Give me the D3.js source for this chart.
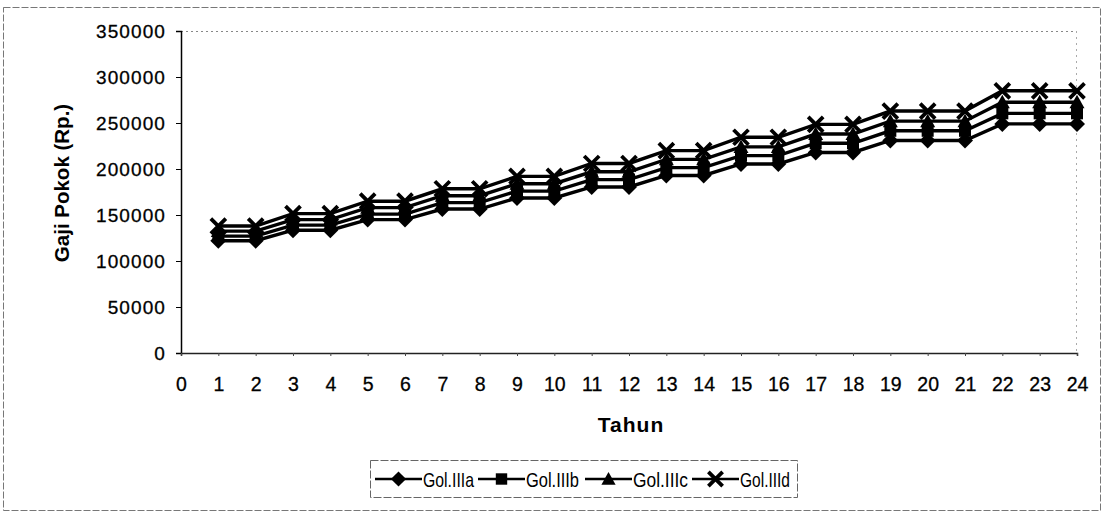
<!DOCTYPE html>
<html>
<head>
<meta charset="utf-8">
<script src="https://cdn.jsdelivr.net/npm/d3@7"></script>
<style>
  html, body { margin: 0; padding: 0; background: #fff; }
  svg { display: block; font-family: "Liberation Sans", Arial, sans-serif; }
</style>
</head>
<body>
<svg id="chart" width="1104" height="515"></svg>
<script>
// Years of service (Tahun) on the x axis
const years = [1,2,3,4,5,6,7,8,9,10,11,12,13,14,15,16,17,18,19,20,21,22,23,24];
const xTicks = [0,1,2,3,4,5,6,7,8,9,10,11,12,13,14,15,16,17,18,19,20,21,22,23,24];
const yTicks = [0,50000,100000,150000,200000,250000,300000,350000];

// Basic salary (Gaji Pokok, Rp.) per grade
const golIIIa = [122000,122000,133500,133500,145000,145000,156500,156500,168500,168500,180500,180500,193000,193000,205500,205500,218000,218000,231000,231000,231000,249000,249000,249000];
const golIIIb = [127000,127000,139000,139000,151000,151000,163500,163500,176000,176000,188500,188500,201500,201500,214500,214500,228000,228000,241500,241500,241500,260500,260500,260500];
const golIIIc = [132500,132500,145000,145000,158000,158000,171000,171000,184000,184000,197000,197000,210500,210500,224000,224000,238000,238000,252000,252000,252000,272500,272500,272500];
const golIIId = [138000,138000,151500,151500,165000,165000,178500,178500,192000,192000,206000,206000,220000,220000,234500,234500,248500,248500,263000,263000,263000,285000,285000,285000];

const seriesNames = ["Gol.IIIa","Gol.IIIb","Gol.IIIc","Gol.IIId"];
const seriesValues = [golIIIa, golIIIb, golIIIc, golIIId];
const markerKinds = ["diamond","square","triangle","cross"];

const svg = d3.select("#chart");

const x = d3.scaleLinear().domain([0, 24]).range([181, 1077]);
const y = d3.scaleLinear().domain([0, 350000]).range([353, 31]);

// Outer chart frame
svg.append("rect")
  .attr("x", 3.5).attr("y", 7.5).attr("width", 1097).attr("height", 503)
  .attr("fill", "none").attr("stroke", "#777").attr("stroke-width", 1)
  .attr("stroke-dasharray", "7,2");

// Plot area top / right edges (dotted)
svg.append("line")
  .attr("x1", 181).attr("x2", 1077).attr("y1", 31.5).attr("y2", 31.5)
  .attr("stroke", "#888").attr("stroke-dasharray", "2,3");
svg.append("line")
  .attr("x1", 1076.5).attr("x2", 1076.5).attr("y1", 31).attr("y2", 353)
  .attr("stroke", "#aaa").attr("stroke-dasharray", "2,4");

// Axes
const yAxis = d3.axisLeft(y).tickValues(yTicks).tickSize(5).tickPadding(10)
  .tickFormat(d3.format("d"));
const gy = svg.append("g").attr("transform", "translate(181,0)").call(yAxis);
gy.select(".domain").attr("stroke", "#000").attr("stroke-width", 1.5);
gy.selectAll(".tick line").attr("stroke", "#000");
gy.selectAll(".tick text")
  .attr("font-size", 19).attr("letter-spacing", "1.1px")
  .attr("font-family", "Liberation Sans, Arial, sans-serif").attr("fill", "#000")
  .attr("stroke", "#000").attr("stroke-width", 0.3);

const xAxis = d3.axisBottom(x).tickValues(xTicks).tickSize(3).tickPadding(21)
  .tickFormat(d3.format("d"));
const gx = svg.append("g").attr("transform", "translate(0,353)").call(xAxis);
gx.select(".domain").attr("stroke", "#222").attr("stroke-width", 1.5);
gx.selectAll(".tick line").attr("stroke", "#444");
gx.selectAll(".tick text")
  .attr("font-size", 19.5)
  .attr("font-family", "Liberation Sans, Arial, sans-serif").attr("fill", "#000")
  .attr("stroke", "#000").attr("stroke-width", 0.3);

// Axis titles
svg.append("text")
  .attr("transform", "translate(69,183) rotate(-90)")
  .attr("text-anchor", "middle")
  .attr("font-size", 20.5).attr("font-weight", "bold")
  .text("Gaji Pokok (Rp.)");

svg.append("text")
  .attr("x", 631).attr("y", 432)
  .attr("text-anchor", "middle")
  .attr("font-size", 21).attr("font-weight", "bold").attr("letter-spacing", "1px")
  .text("Tahun");

// Marker drawing
function drawMarker(g, kind, cx, cy, scale) {
  const s = scale || 1;
  if (kind === "cross") {
    const r = 7.5 * s;
    g.append("path")
      .attr("d", `M${cx - r},${cy - r}L${cx + r},${cy + r}M${cx - r},${cy + r}L${cx + r},${cy - r}`)
      .attr("stroke", "#000").attr("stroke-width", 3.8).attr("fill", "none");
    return;
  }
  let d;
  if (kind === "diamond") {
    const r = 8 * s;
    d = `M${cx},${cy - r}L${cx + r},${cy}L${cx},${cy + r}L${cx - r},${cy}Z`;
  } else if (kind === "square") {
    const r = 6 * s;
    d = `M${cx - r},${cy - r}H${cx + r}V${cy + r}H${cx - r}Z`;
  } else {
    const r = 7.5 * s;
    d = `M${cx},${cy - r}L${cx + r},${cy + r * 0.8}L${cx - r},${cy + r * 0.8}Z`;
  }
  g.append("path").attr("d", d).attr("fill", "#000");
}

// Series lines
const line = d3.line().x((d, i) => x(years[i])).y(d => y(d));
const gLines = svg.append("g");
seriesValues.forEach(vals => {
  gLines.append("path")
    .datum(vals)
    .attr("d", line)
    .attr("fill", "none").attr("stroke", "#000").attr("stroke-width", 3.4);
});

// Series markers
const gMarks = svg.append("g");
seriesValues.forEach((vals, si) => {
  vals.forEach((v, i) => drawMarker(gMarks, markerKinds[si], x(years[i]), y(v)));
});

// Legend
const lg = svg.append("g");
lg.append("rect")
  .attr("x", 370.5).attr("y", 460.5).attr("width", 427).attr("height", 37)
  .attr("fill", "#fff").attr("stroke", "#666").attr("stroke-dasharray", "8,2");
const legendLineX = [375, 478, 585, 692];
const legendTextW = [51, 53, 55, 50];
seriesNames.forEach((name, i) => {
  const lx = legendLineX[i];
  lg.append("line")
    .attr("x1", lx).attr("x2", lx + 47).attr("y1", 479).attr("y2", 479)
    .attr("stroke", "#000").attr("stroke-width", 2.5);
  drawMarker(lg, markerKinds[i], lx + 23.5, 479, 0.95);
  lg.append("text")
    .attr("x", lx + 48).attr("y", 487)
    .attr("font-size", 21)
    .attr("textLength", legendTextW[i]).attr("lengthAdjust", "spacingAndGlyphs")
    .text(name);
});
</script>
</body>
</html>
